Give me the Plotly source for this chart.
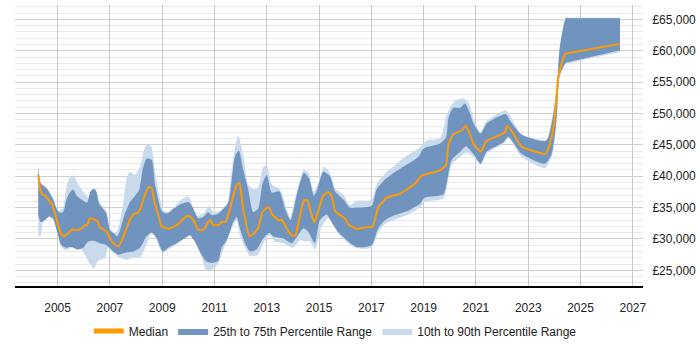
import plotly.graph_objects as go

# ---------------- data (x in decimal years, values in £) ----------------
median_x = [2004.26, 2004.35, 2004.43, 2004.51, 2004.64, 2004.77, 2004.90, 2005.02, 2005.15, 2005.25,
            2005.41, 2005.57, 2005.75, 2005.92, 2006.04, 2006.13, 2006.24, 2006.39, 2006.52, 2006.62,
            2006.77, 2006.90, 2007.00, 2007.15, 2007.32, 2007.45, 2007.61, 2007.77, 2007.92, 2008.08,
            2008.21, 2008.34, 2008.49, 2008.60, 2008.72, 2008.85, 2008.98, 2009.10, 2009.23, 2009.42,
            2009.62, 2009.80, 2010.00, 2010.13, 2010.26, 2010.36, 2010.51, 2010.64, 2010.76, 2010.85,
            2010.95, 2011.14, 2011.27, 2011.44, 2011.59, 2011.72, 2011.85, 2011.95, 2012.10, 2012.33,
            2012.48, 2012.67, 2012.83, 2013.00, 2013.10, 2013.19, 2013.31, 2013.47, 2013.57, 2013.70,
            2013.86, 2013.99, 2014.10, 2014.27, 2014.42, 2014.55, 2014.68, 2014.82, 2014.97, 2015.16,
            2015.35, 2015.48, 2015.61, 2015.80, 2015.99, 2016.12, 2016.44, 2016.69, 2017.05, 2017.26,
            2017.59, 2018.09, 2018.35, 2018.67, 2018.93, 2019.60, 2019.86, 2019.94, 2020.13, 2020.45,
            2020.61, 2020.77, 2020.90, 2021.19, 2021.39, 2022.11, 2022.18, 2022.37, 2022.75, 2023.68,
            2023.83, 2023.99, 2024.15, 2024.40, 2024.50, 2026.51]
median_y = [40200, 37600, 37050, 37000, 36300, 35600, 34000, 32200, 30700, 30400,
            31000, 31500, 31400, 31700, 32200, 32200, 33300, 33100, 32800, 31800,
            31500, 31100, 30100, 29300, 28800, 29700, 31400, 33100, 34000, 34200,
            35300, 37100, 38300, 38100, 35600, 33800, 32000, 31800, 31600, 31900,
            32400, 33200, 33700, 33300, 32500, 31500, 31400, 31800, 32700, 33000,
            32200, 32200, 32700, 32800, 34800, 36900, 38700, 38900, 34800, 30500,
            30800, 31700, 34200, 35000, 35000, 34000, 33500, 32900, 33100, 32200,
            31000, 30500, 30600, 33700, 36100, 36200, 34300, 32600, 34500, 36900,
            37500, 36800, 34500, 33800, 33300, 32300, 31600, 31800, 32000, 35000,
            36600, 37200, 37900, 38800, 40100, 40900, 41800, 44900, 46700, 47300,
            48000, 46700, 45200, 43900, 45600, 47000, 48000, 47200, 44700, 43600,
            45200, 48300, 55800, 59500, 59600, 61100]

p75_x = [2004.26, 2004.35, 2004.58, 2004.83, 2004.96, 2005.06, 2005.21, 2005.34, 2005.47, 2005.60,
         2005.73, 2005.98, 2006.13, 2006.26, 2006.39, 2006.49, 2006.59, 2006.74, 2006.87, 2007.00,
         2007.15, 2007.28, 2007.41, 2007.57, 2007.77, 2007.96, 2008.12, 2008.25, 2008.40, 2008.60,
         2008.72, 2008.85, 2008.98, 2009.17, 2009.42, 2009.74, 2010.00, 2010.13, 2010.25, 2010.38,
         2010.57, 2010.76, 2010.89, 2011.14, 2011.33, 2011.53, 2011.66, 2011.78, 2011.93, 2012.10,
         2012.29, 2012.48, 2012.67, 2012.84, 2013.00, 2013.19, 2013.48, 2013.70, 2013.91, 2014.14,
         2014.42, 2014.61, 2014.80, 2014.91, 2015.16, 2015.42, 2015.61, 2015.93, 2016.18, 2016.44,
         2017.01, 2017.20, 2017.46, 2017.84, 2018.22, 2018.80, 2018.99, 2019.63, 2019.86, 2019.94,
         2020.13, 2020.40, 2020.58, 2020.77, 2020.90, 2021.18, 2021.41, 2022.15, 2022.31, 2022.75,
         2023.68, 2023.83, 2024.09, 2024.20, 2024.44, 2024.54, 2026.51]
p75_y = [41500, 38900, 38100, 36300, 34800, 34200, 34300, 36300, 37400, 37900,
         36900, 36100, 35800, 37600, 38000, 37400, 35600, 34800, 34000, 31400,
         30900, 30400, 31700, 34000, 35900, 36900, 37800, 41000, 42800, 42600,
         38900, 36300, 34500, 34000, 34800, 35600, 35900, 35300, 34300, 33300,
         33500, 34300, 33800, 34000, 34800, 35800, 39500, 43100, 44100, 41000,
         37900, 34300, 34800, 38900, 40200, 37400, 37600, 34800, 33000, 36900,
         40500, 39700, 36900, 37600, 40700, 40000, 37600, 36300, 35000, 35000,
         35300, 37900, 39200, 40500, 41500, 43100, 44400, 45200, 46200, 49100,
         50900, 50900, 51600, 50100, 48500, 46800, 48400, 49900, 48800, 46600,
         45600, 47000, 53500, 60200, 65200, 65200, 65200]

p25_x = [2004.26, 2004.35, 2004.51, 2004.68, 2004.83, 2005.02, 2005.15, 2005.34, 2005.54, 2005.75,
         2005.98, 2006.17, 2006.39, 2006.62, 2006.87, 2007.13, 2007.32, 2007.57, 2007.89, 2008.15,
         2008.40, 2008.60, 2008.79, 2009.02, 2009.23, 2009.55, 2009.87, 2010.06, 2010.25, 2010.44,
         2010.67, 2010.89, 2011.14, 2011.27, 2011.47, 2011.72, 2011.85, 2011.97, 2012.17, 2012.36,
         2012.61, 2012.87, 2013.10, 2013.25, 2013.63, 2013.95, 2014.20, 2014.40, 2014.59, 2014.84,
         2015.03, 2015.29, 2015.48, 2015.73, 2016.12, 2016.44, 2017.01, 2017.26, 2017.52, 2017.84,
         2018.41, 2018.86, 2019.05, 2019.75, 2019.88, 2020.07, 2020.40, 2020.62, 2020.90, 2021.18,
         2021.41, 2022.05, 2022.24, 2022.75, 2023.64, 2023.90, 2024.09, 2024.20, 2024.44, 2024.54, 2026.51]
p25_y = [33700, 32700, 33000, 33600, 33200, 30600, 29000, 28600, 28700, 28300,
         28600, 29600, 29700, 29300, 29000, 28000, 27500, 27800, 28000, 28600,
         30400, 31000, 30100, 28000, 28600, 29300, 30100, 30600, 29600, 28000,
         26500, 26200, 26500, 28600, 29800, 32700, 33500, 31700, 29300, 28000,
         28300, 30100, 31000, 30400, 30100, 29300, 30600, 31700, 31100, 29300,
         33000, 33900, 32700, 31100, 29600, 28700, 29000, 31700, 33000, 33700,
         34500, 35600, 36600, 37100, 38900, 42600, 43900, 44800, 43600, 42000,
         43900, 45400, 46300, 43600, 42000, 43600, 49300, 56100, 58100, 58200, 60100]

p90_x = [2004.26, 2004.35, 2004.58, 2004.83, 2004.96, 2005.06, 2005.21, 2005.34, 2005.49, 2005.60,
         2005.79, 2005.98, 2006.17, 2006.30, 2006.45, 2006.59, 2006.74, 2006.87, 2007.00, 2007.19,
         2007.32, 2007.51, 2007.66, 2007.77, 2007.96, 2008.15, 2008.34, 2008.47, 2008.60, 2008.72,
         2008.89, 2009.07, 2009.30, 2009.68, 2010.00, 2010.32, 2010.57, 2010.80, 2010.95, 2011.21,
         2011.47, 2011.66, 2011.78, 2011.91, 2012.10, 2012.29, 2012.48, 2012.67, 2012.87, 2013.00,
         2013.19, 2013.51, 2013.89, 2014.14, 2014.42, 2014.61, 2014.80, 2014.97, 2015.19, 2015.42,
         2015.61, 2015.93, 2016.18, 2016.44, 2017.01, 2017.20, 2017.59, 2017.97, 2018.35, 2018.86,
         2019.11, 2019.63, 2019.88, 2020.07, 2020.26, 2020.52, 2020.70, 2020.90, 2021.18, 2021.41,
         2022.15, 2022.31, 2022.75, 2023.68, 2023.83, 2024.09, 2024.20, 2024.44, 2024.54, 2026.51]
p90_y = [41700, 39000, 38200, 36500, 35000, 34500, 35000, 38400, 40000, 40100,
         38700, 37600, 36600, 37900, 38000, 35900, 35100, 34300, 31700, 30900,
         31700, 35800, 40000, 40700, 40200, 41500, 44600, 45200, 44600, 41000,
         36900, 34500, 34300, 36100, 36800, 33700, 34000, 35300, 34300, 34500,
         35300, 41000, 44600, 46500, 43300, 38700, 37900, 38200, 41500, 41800,
         38700, 37900, 33500, 37400, 41000, 40500, 37600, 38900, 41500, 40500,
         38100, 37100, 35400, 36100, 36200, 38700, 40700, 42000, 43300, 44600,
         45700, 46100, 49800, 51400, 52200, 52400, 51900, 49300, 47000, 48800,
         50500, 49600, 46700, 45800, 47500, 53800, 60500, 65300, 65300, 65300]

p10_x = [2004.26, 2004.35, 2004.45, 2004.58, 2004.77, 2004.96, 2005.09, 2005.28, 2005.54, 2005.85,
         2006.04, 2006.24, 2006.39, 2006.55, 2006.81, 2006.94, 2007.13, 2007.38, 2007.64, 2007.89,
         2008.15, 2008.40, 2008.60, 2008.72, 2008.89, 2009.04, 2009.23, 2009.55, 2009.87, 2010.06,
         2010.32, 2010.51, 2010.70, 2010.95, 2011.14, 2011.27, 2011.47, 2011.72, 2011.85, 2011.97,
         2012.17, 2012.36, 2012.67, 2012.87, 2013.10, 2013.31, 2013.63, 2014.01, 2014.27, 2014.46,
         2014.65, 2014.84, 2015.10, 2015.35, 2015.54, 2015.80, 2016.12, 2016.44, 2017.01, 2017.26,
         2017.52, 2017.84, 2018.41, 2018.86, 2019.05, 2019.75, 2019.88, 2020.07, 2020.40, 2020.65,
         2020.90, 2021.18, 2021.41, 2022.05, 2022.24, 2022.75, 2023.64, 2023.90, 2024.09, 2024.20,
         2024.44, 2024.54, 2026.51]
p10_y = [30400, 30500, 33200, 34000, 33800, 31700, 29100, 28200, 28600, 28600,
         27500, 26000, 25300, 26500, 27000, 28600, 27800, 27000, 26700, 27000,
         27000, 29100, 31400, 30600, 28600, 27800, 28300, 29100, 30500, 30900,
         29100, 27000, 24900, 25200, 26000, 27500, 29600, 32200, 33000, 30600,
         28600, 27300, 27500, 29300, 30600, 29600, 29300, 28600, 29800, 29600,
         29600, 28300, 31900, 33300, 32200, 30500, 29300, 28500, 28600, 31000,
         32400, 33000, 33900, 35000, 35900, 36400, 38000, 41800, 43100, 43800,
         43100, 41900, 43600, 45200, 46100, 43100, 41300, 43100, 49100, 55700,
         57900, 58000, 59800]

year_ticks = [2005, 2007, 2009, 2011, 2013, 2015, 2017, 2019, 2021, 2023, 2025, 2027]
salary_ticks = [25000, 30000, 35000, 40000, 45000, 50000, 55000, 60000, 65000]

# ---------------- figure ----------------
FONT = "Liberation Sans, Arial, sans-serif"
EDGE = dict(width=0, shape="spline", smoothing=0.6)
fig = go.Figure()

# 10th-90th band
fig.add_trace(go.Scatter(x=p10_x, y=p10_y, mode="lines", line=EDGE,
                         showlegend=False, hoverinfo="skip"))
fig.add_trace(go.Scatter(x=p90_x, y=p90_y, mode="lines", line=EDGE,
                         fill="tonexty", fillcolor="#C9DAED",
                         name="10th to 90th Percentile Range", legendrank=3, hoverinfo="skip"))
# 25th-75th band
fig.add_trace(go.Scatter(x=p25_x, y=p25_y, mode="lines", line=EDGE,
                         showlegend=False, hoverinfo="skip"))
fig.add_trace(go.Scatter(x=p75_x, y=p75_y, mode="lines", line=EDGE,
                         fill="tonexty", fillcolor="#7094BE",
                         name="25th to 75th Percentile Range", legendrank=2, hoverinfo="skip"))
# median
fig.add_trace(go.Scatter(x=median_x, y=median_y, mode="lines",
                         line=dict(color="#FF9A00", width=2, shape="spline", smoothing=0.4),
                         name="Median", legendrank=1))

fig.update_layout(
    width=700, height=350,
    margin=dict(l=15, r=57, t=5, b=58),
    paper_bgcolor="white", plot_bgcolor="white",
    font=dict(family=FONT, size=12, color="#222222"),
    showlegend=True,
    legend=dict(orientation="h", x=0.51, xanchor="center", y=-0.16, yanchor="middle",
                font=dict(family=FONT, size=12, color="#222222"), itemsizing="constant",
                traceorder="normal"),
)
fig.update_xaxes(
    range=[2003.37, 2027.39], tickmode="array", tickvals=year_ticks,
    ticktext=[str(y) for y in year_ticks],
    showgrid=True, gridcolor="#C8C8C8", gridwidth=1,
    showline=True, linecolor="#000000", linewidth=1.5,
    ticks="outside", ticklen=10, tickcolor="rgba(0,0,0,0)",
    zeroline=False,
)
fig.update_yaxes(
    range=[22500, 67300], side="right", tickmode="array", tickvals=salary_ticks,
    ticktext=["£{:,}".format(v) for v in salary_ticks],
    showgrid=True, gridcolor="#CFCFCF", gridwidth=1,
    minor=dict(dtick=1000, tick0=0, showgrid=True, gridcolor="#E8E8E8", gridwidth=1),
    showline=False, zeroline=False,
    ticks="outside", ticklen=6, tickcolor="rgba(0,0,0,0)",
)

fig.write_html("out.html")
